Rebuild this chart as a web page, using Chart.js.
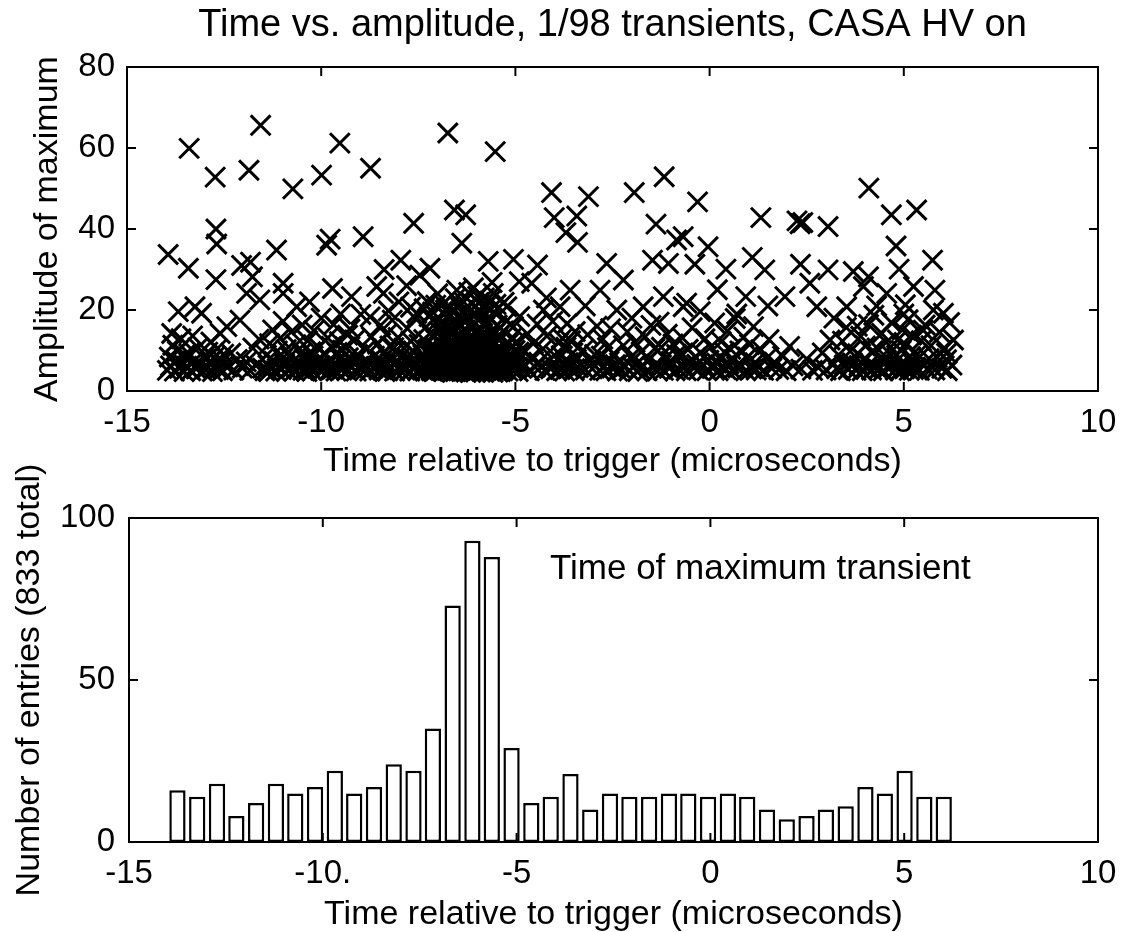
<!DOCTYPE html>
<html>
<head>
<meta charset="utf-8">
<script src="https://cdn.jsdelivr.net/npm/chart.js@4"></script>
<style>
  body { margin: 0; background: #fff; }
  canvas { position: absolute; left: 0; }
  #top { top: 0; }
  #bottom { top: 420px; }
</style>
</head>
<body>
<canvas id="top" width="1135" height="480"></canvas>
<canvas id="bottom" width="1135" height="512"></canvas>
<script>
// ---- data ----

// isolated crosses above the dense band: [time, amplitude]
const highPoints = [
  [-13.40,59.9],[-11.56,65.6],[-12.73,52.8],[-11.86,54.5],[-10.73,49.9],[-9.99,53.3],[-9.52,61.2],[-8.73,55.0],[-6.74,63.7],[-5.52,59.1],
  [-4.07,49.0],[-3.12,48.0],[-1.94,49.0],[-1.17,52.9],[-0.31,46.7],[1.32,42.8],[2.25,42.0],[2.33,41.3],[2.40,41.6],[3.05,40.6],
  [4.10,50.1],[4.68,43.5],[5.33,44.7],[4.80,35.8],[5.74,32.3],
  [-13.94,33.7],[-13.42,30.3],[-12.71,40.0],[-12.69,36.3],[-12.71,27.5],[-12.05,31.0],[-11.82,31.8],[-11.15,34.8],[-11.77,28.2],[-10.98,26.6],
  [-9.86,36.0],[-9.77,37.5],[-8.92,38.1],[-7.62,41.4],[-7.95,32.3],[-7.20,30.3],[-8.38,30.0],[-9.71,25.3],[-9.22,23.3],[-8.57,25.8],[-7.46,28.6],
  [-6.57,44.7],[-6.28,43.5],[-6.38,36.5],[-5.70,32.0],[-5.05,32.5],[-4.43,31.1],[-4.00,42.8],[-3.70,39.1],[-3.40,36.7],[-3.42,43.2],
  [-2.65,31.5],[-1.38,41.2],[-0.85,37.3],[-0.04,35.6],[-1.47,32.3],[-1.06,31.5],[-0.38,31.3],[0.42,30.1],[-0.68,38.1],[1.10,33.0],
  [1.42,29.9],[2.34,31.3],[3.05,29.9],[3.70,29.5],[4.09,28.2],[4.88,30.1],[2.58,26.6],[1.94,23.3],[5.80,24.9],[2.76,20.8],
  [3.96,25.8],[3.53,20.8],[4.56,24.1],[5.25,25.8],[5.76,20.0],[6.02,19.2],[6.28,12.6],[0.93,23.3],[-0.59,21.7],[-0.24,19.6],
  [6.10,7.7],[6.10,9.3],
  [-5.57,24.1],[-6.51,24.9],[-4.58,26.6],[-3.59,24.9],[-2.82,24.9],[-2.22,27.4],[-2.39,20.0],[-1.71,20.8],[-1.19,23.3],[-0.68,20.8],
  [-7.54,19.2],[-5.22,20.8],[-4.28,20.0],[-3.85,20.8],
  [-13.68,19.6],[-13.25,20.8],[-13.08,19.2],[-11.92,24.1],[-11.58,22.5],[-10.98,24.1],[-10.63,20.8],[-8.74,18.3],[-8.40,24.1],
  [-13.85,14.2],[-12.43,15.9],[-12.09,17.5],
  [-10.30,22.0],[-9.50,19.0],[-8.00,22.0],[-7.80,26.0],[-7.00,24.0],[-6.80,20.0],[-4.90,27.0],[-4.20,23.0],[-3.20,21.0],[-2.00,18.0],
  [-1.30,17.0],[0.20,25.0],[0.70,19.0],[1.50,21.0],[3.20,18.0],[3.80,16.0],[4.30,21.0],[5.00,19.0],[5.50,15.0]
];

// crosses in the dense band near the bottom: [time, amplitude]
const bandPoints = [
  [-13.96,5.1],[-13.91,8.4],[-13.88,6.2],[-13.82,11.3],[-13.78,4.9],[-13.74,7.5],[-13.70,9.8],[-13.65,5.6],[-13.61,12.9],[-13.57,6.8],[-13.53,4.8],[-13.51,8.9],
  [-13.46,6.1],[-13.41,9.2],[-13.36,5.0],[-13.31,13.6],[-13.27,7.4],[-13.22,5.5],[-13.17,10.7],[-13.12,6.6],[-13.06,4.9],[-13.01,8.1],
  [-12.96,5.4],[-12.92,9.6],[-12.88,7.0],[-12.84,12.1],[-12.80,4.8],[-12.76,8.3],[-12.72,6.1],[-12.68,10.4],[-12.64,5.3],[-12.60,14.2],[-12.57,7.7],[-12.54,5.0],[-12.51,9.1],[-12.49,6.5],
  [-12.40,6.0],[-12.33,9.3],[-12.25,5.2],[-12.16,7.8],[-12.03,5.7],
  [-11.93,7.2],[-11.84,5.1],[-11.76,10.6],[-11.68,6.3],[-11.60,12.8],[-11.51,5.6],
  [-11.45,5.0],[-11.41,8.8],[-11.37,6.4],[-11.33,11.7],[-11.29,5.5],[-11.25,15.1],[-11.21,7.3],[-11.17,4.9],[-11.13,9.9],[-11.09,6.0],[-11.06,13.0],[-11.03,5.3],[-11.00,8.0],[-10.98,17.2],[-11.35,4.8],
  [-10.94,6.7],[-10.90,10.2],[-10.86,5.2],[-10.81,8.5],[-10.77,14.6],[-10.73,6.0],[-10.69,4.9],[-10.65,11.4],[-10.60,7.4],[-10.56,5.6],[-10.52,9.3],[-10.49,16.3],[-10.47,5.1],
  [-10.43,7.9],[-10.39,5.3],[-10.35,12.4],[-10.31,6.6],[-10.27,9.7],[-10.23,5.0],[-10.19,14.9],[-10.15,7.1],[-10.11,5.8],[-10.07,10.8],[-10.03,6.2],[-10.00,18.0],[-9.97,4.9],[-10.21,8.6],[-10.37,4.8],
  [-9.92,5.7],[-9.89,9.0],[-9.86,6.4],[-9.83,13.1],[-9.80,5.1],[-9.77,7.6],[-9.74,11.0],[-9.71,5.4],[-9.68,16.4],[-9.65,6.9],[-9.62,4.9],[-9.59,9.5],[-9.56,6.0],[-9.53,12.2],[-9.50,7.8],[-9.47,5.2],[-9.45,10.1],
  [-9.42,6.3],[-9.38,10.9],[-9.34,5.0],[-9.30,8.2],[-9.26,15.3],[-9.22,5.8],[-9.18,7.1],[-9.14,12.6],[-9.10,4.9],[-9.06,9.0],[-9.02,6.1],[-8.98,18.9],[-8.95,5.4],[-9.32,13.8],
  [-8.91,6.8],[-8.87,5.1],[-8.83,10.3],[-8.79,7.2],[-8.75,4.9],[-8.71,13.4],[-8.67,5.7],[-8.63,8.6],[-8.59,6.0],[-8.55,11.6],[-8.51,5.2],[-8.47,16.2],[-8.44,7.5],
  [-8.41,5.5],[-8.38,9.4],[-8.35,6.3],[-8.32,14.0],[-8.29,5.0],[-8.26,7.9],[-8.23,11.1],[-8.20,5.8],[-8.17,17.5],[-8.14,6.7],[-8.11,4.9],[-8.08,9.9],[-8.05,7.0],[-8.02,13.2],[-7.99,5.3],[-7.96,8.4],[-7.94,6.1],[-8.27,19.8],[-8.13,10.7],[-8.36,4.8],
  [-7.90,6.0],[-7.87,10.6],[-7.84,5.2],[-7.81,8.2],[-7.78,15.4],[-7.75,6.6],[-7.72,4.9],[-7.69,12.3],[-7.66,7.4],[-7.63,5.5],[-7.60,9.6],[-7.57,17.9],[-7.54,6.2],[-7.51,5.0],[-7.48,11.5],[-7.45,7.8],[-7.43,5.7],[-7.70,20.7],
  [-7.40,5.3],[-7.38,8.9],[-7.36,12.7],[-7.34,6.1],[-7.32,4.9],[-7.30,15.8],[-7.28,7.3],[-7.26,10.2],[-7.24,5.6],[-7.22,18.4],[-7.20,6.8],[-7.18,9.1],[-7.16,5.0],[-7.14,13.6],[-7.12,7.7],[-7.10,4.8],[-7.08,11.0],
  [-7.06,6.4],[-7.04,16.9],[-7.02,8.3],[-7.00,5.4],[-6.98,9.8],[-6.96,14.7],[-6.94,6.9],[-6.92,5.1],[-6.91,12.0],[-7.35,20.3],[-7.27,22.1],[-7.13,19.5],[-7.05,21.2],[-6.97,7.5],[-7.21,10.6],[-7.09,6.0],
  [-6.89,5.2],[-6.88,8.7],[-6.87,12.9],[-6.86,6.3],[-6.85,16.1],[-6.84,4.8],[-6.83,10.4],[-6.82,7.2],[-6.81,5.7],[-6.80,14.0],[-6.79,9.1],[-6.78,6.0],[-6.77,18.3],[-6.76,5.1],[-6.75,11.7],[-6.74,7.9],[-6.73,13.5],
  [-6.72,5.5],[-6.71,8.2],[-6.70,6.6],[-6.69,15.2],[-6.68,4.9],[-6.67,10.0],[-6.66,7.0],[-6.65,12.3],[-6.64,5.9],[-6.63,17.0],[-6.62,8.9],[-6.61,6.2],[-6.60,19.4],[-6.59,5.3],[-6.58,11.1],[-6.57,7.6],
  [-6.56,14.6],[-6.55,6.8],[-6.54,4.8],[-6.53,9.6],[-6.52,12.7],[-6.51,5.6],[-6.50,16.8],[-6.49,8.0],[-6.48,6.4],[-6.47,10.8],[-6.46,5.0],[-6.45,13.9],[-6.44,7.3],[-6.43,18.8],[-6.42,9.3],[-6.41,5.8],
  [-6.40,11.9],[-6.86,21.5],[-6.70,20.6],[-6.55,22.8],[-6.45,21.0],[-6.62,4.6],
  [-6.38,5.4],[-6.37,9.0],[-6.36,13.2],[-6.35,6.7],[-6.34,17.4],[-6.33,4.9],[-6.32,10.9],[-6.31,7.5],[-6.30,5.9],[-6.29,15.0],[-6.28,8.4],[-6.27,6.1],[-6.26,20.2],[-6.25,5.2],[-6.24,12.0],[-6.23,7.8],
  [-6.22,14.3],[-6.21,5.6],[-6.20,9.7],[-6.19,6.9],[-6.18,18.1],[-6.17,4.8],[-6.16,11.3],[-6.15,7.1],[-6.14,13.8],[-6.13,6.0],[-6.12,21.6],[-6.11,8.8],[-6.10,5.3],[-6.09,16.2],[-6.08,10.1],[-6.07,6.5],
  [-6.06,12.6],[-6.05,5.0],[-6.04,19.0],[-6.03,7.7],[-6.02,9.4],[-6.01,5.7],[-6.00,14.9],[-5.99,8.1],[-5.98,6.3],[-5.97,23.4],[-5.96,11.5],[-5.95,5.1],[-5.94,17.7],[-5.93,7.4],[-5.92,10.5],[-5.91,6.2],
  [-5.90,13.1],[-6.33,22.0],[-6.20,24.3],[-6.08,25.5],[-5.95,21.8],[-6.27,4.7],[-6.15,4.6],[-6.02,4.7],[-6.36,19.3],[-5.92,19.9],
  [-5.88,5.3],[-5.87,9.2],[-5.86,14.1],[-5.85,6.5],[-5.84,18.6],[-5.83,4.8],[-5.82,11.0],[-5.81,7.6],[-5.80,5.8],[-5.79,15.9],[-5.78,8.6],[-5.77,6.2],[-5.76,20.9],[-5.75,5.1],[-5.74,12.4],[-5.73,7.9],
  [-5.72,16.7],[-5.71,5.5],[-5.70,9.9],[-5.69,6.8],[-5.68,13.3],[-5.67,4.9],[-5.66,10.6],[-5.65,7.2],[-5.64,17.8],[-5.63,5.9],[-5.62,8.3],[-5.61,12.1],[-5.60,6.4],[-5.59,15.1],[-5.58,5.2],[-5.57,9.5],
  [-5.56,7.0],[-5.55,19.5],[-5.54,5.6],[-5.53,11.6],[-5.52,8.0],[-5.51,14.4],[-5.50,6.0],[-5.49,10.2],[-5.48,5.0],[-5.47,16.3],[-5.46,7.4],[-5.45,12.8],[-5.44,5.7],[-5.43,9.0],[-5.42,6.6],[-5.41,13.7],
  [-5.40,5.3],[-5.39,8.7],[-5.80,23.0],[-5.66,22.2],[-5.50,21.4],[-5.60,26.8],[-5.82,4.6],[-5.58,4.6],[-5.45,4.7],
  [-5.37,6.1],[-5.35,10.3],[-5.33,5.0],[-5.31,14.8],[-5.29,7.7],[-5.27,5.5],[-5.25,9.2],[-5.23,17.3],[-5.21,6.4],[-5.19,4.9],[-5.17,11.8],[-5.15,7.0],[-5.13,5.8],[-5.11,13.0],[-5.09,8.5],[-5.07,5.2],
  [-5.05,15.9],[-5.03,6.7],[-5.01,10.0],[-4.99,5.4],[-4.97,12.2],[-4.95,7.3],[-4.93,4.8],[-4.91,9.6],[-4.89,18.4],[-5.29,21.9],
  [-4.84,5.6],[-4.79,9.8],[-4.74,6.3],[-4.69,14.1],[-4.64,5.0],[-4.59,8.2],[-4.54,11.7],[-4.49,5.9],[-4.44,16.5],[-4.40,7.1],
  [-4.34,6.0],[-4.29,10.4],[-4.24,5.1],[-4.19,13.6],[-4.14,7.5],[-4.09,5.5],[-4.04,17.2],[-3.99,8.8],[-3.94,5.0],[-3.89,11.9],
  [-3.85,5.3],[-3.82,8.7],[-3.79,13.0],[-3.76,6.2],[-3.73,4.9],[-3.70,10.8],[-3.67,16.6],[-3.64,7.0],[-3.61,5.6],[-3.58,12.4],[-3.55,6.5],[-3.52,9.4],[-3.49,5.0],[-3.46,14.7],[-3.43,7.8],[-3.38,5.8],
  [-3.32,6.4],[-3.26,10.1],[-3.20,5.2],[-3.14,13.9],[-3.08,7.4],[-3.02,5.5],[-2.96,9.0],[-2.90,16.0],
  [-2.83,5.1],[-2.79,8.6],[-2.75,12.8],[-2.71,6.0],[-2.67,5.0],[-2.63,10.7],[-2.59,7.3],[-2.55,15.4],[-2.51,5.7],[-2.47,9.2],[-2.43,6.5],[-2.37,4.9],
  [-2.32,7.0],[-2.27,5.3],[-2.22,11.2],[-2.17,6.1],[-2.12,14.6],[-2.07,5.0],[-2.02,8.4],[-1.97,5.8],[-1.92,12.0],[-1.88,6.7],[-1.85,4.8],
  [-1.81,5.5],[-1.76,9.7],[-1.71,6.3],[-1.66,13.4],[-1.61,5.0],[-1.56,7.9],[-1.51,16.2],[-1.46,5.9],[-1.41,10.5],[-1.37,6.6],[-1.34,4.9],
  [-1.30,6.2],[-1.24,10.8],[-1.19,5.1],[-1.14,8.1],[-1.09,14.0],[-1.04,5.6],[-0.99,7.3],[-0.94,11.6],[-0.89,5.0],[-0.85,9.0],
  [-0.80,5.4],[-0.75,8.9],[-0.70,13.1],[-0.65,6.0],[-0.60,5.0],[-0.55,10.3],[-0.50,7.2],[-0.45,15.6],[-0.40,5.7],[-0.36,8.3],[-0.33,6.6],
  [-0.29,5.2],[-0.23,9.4],[-0.17,6.5],[-0.12,12.9],[-0.07,5.0],[-0.02,7.6],[0.03,10.9],[0.08,5.6],[0.13,16.8],[0.18,6.9],
  [0.22,5.0],[0.26,8.0],[0.30,12.2],[0.34,5.9],[0.38,9.6],[0.42,5.3],[0.46,14.8],[0.50,6.7],[0.54,10.3],[0.58,5.1],[0.62,7.7],[0.66,17.9],[0.69,6.1],
  [0.73,5.7],[0.78,9.9],[0.83,6.2],[0.88,13.3],[0.93,5.0],[0.98,8.4],[1.03,11.5],[1.08,5.4],[1.13,15.9],[1.17,7.0],[1.20,5.2],
  [1.25,6.0],[1.32,10.2],[1.39,5.1],[1.46,8.0],[1.53,12.7],[1.60,5.6],[1.67,7.1],
  [1.78,5.3],[1.88,8.6],[1.97,5.0],[2.06,11.0],[2.15,6.2],
  [2.35,5.4],[2.50,7.9],[2.65,5.1],
  [2.80,5.8],[2.90,9.4],[3.00,5.2],[3.10,12.6],[3.20,6.7],
  [3.27,5.5],[3.32,8.9],[3.37,5.0],[3.42,12.3],[3.47,6.4],[3.52,15.7],[3.57,5.3],[3.62,9.8],[3.68,6.9],
  [3.77,5.1],[3.81,9.2],[3.85,6.3],[3.89,13.5],[3.93,5.0],[3.97,7.8],[4.01,11.1],[4.05,5.6],[4.09,16.4],[4.13,6.8],[4.17,5.2],[4.20,9.9],[4.23,18.7],
  [4.27,6.0],[4.31,10.6],[4.35,5.3],[4.39,8.1],[4.43,14.2],[4.47,5.0],[4.51,7.4],[4.55,12.0],[4.59,5.7],[4.63,9.3],[4.68,16.9],[4.72,6.5],
  [4.78,5.2],[4.81,8.8],[4.84,12.6],[4.87,6.1],[4.90,5.0],[4.93,10.0],[4.96,15.1],[4.99,7.0],[5.02,5.5],[5.05,11.4],[5.08,6.4],[5.11,17.6],[5.14,5.1],[5.17,8.5],[5.20,13.8],[5.23,6.8],[5.25,5.3],[5.04,21.3],
  [5.30,5.8],[5.35,9.1],[5.40,5.1],[5.45,12.4],[5.50,6.6],[5.55,16.3],[5.60,5.4],[5.65,8.0],[5.70,11.2],[5.75,5.9],
  [5.80,5.2],[5.86,8.3],[5.92,14.5],[5.98,5.6],[6.04,10.6],[6.12,5.0],[6.18,16.9],[6.24,6.4]
];

// histogram: bin centres (microseconds) and counts
const binCenters = [
  -13.75,-13.24,-12.73,-12.23,-11.72,-11.21,-10.71,-10.20,-9.69,-9.19,
  -8.68,-8.17,-7.66,-7.16,-6.65,-6.14,-5.64,-5.13,-4.62,-4.12,
  -3.61,-3.10,-2.59,-2.09,-1.58,-1.07,-0.57,-0.06,0.45,0.95,
  1.46,1.97,2.48,2.98,3.49,4.00,4.50,5.01,5.52,6.02
];
const binCounts = [
  16,14,18,8,12,18,15,17,22,15,
  17,24,22,35,73,93,88,29,12,14,
  21,10,15,14,14,15,15,14,15,14,
  10,7,8,10,11,17,15,22,14,14
];

const timeTicks = [-15, -10, -5, 0, 5, 10];

const titleText = 'Time vs. amplitude, 1/98 transients, CASA HV on';
const xTitleText = 'Time relative to trigger (microseconds)';
const ampTitleText = 'Amplitude of maximum';
const countTitleText = 'Number of entries (833 total)';
const noteText = 'Time of maximum transient';

const FONT = '"Liberation Sans", Arial, sans-serif';
Chart.defaults.font.family = FONT;
Chart.defaults.font.size = 33;
Chart.defaults.color = '#000';

// box round the axes with inward ticks on all four sides
const boxPlugin = {
  id: 'box',
  afterDraw(chart) {
    const ctx = chart.ctx;
    const a = chart.chartArea;
    const x = chart.scales.x, y = chart.scales.y;
    ctx.save();
    ctx.strokeStyle = '#000';
    ctx.lineWidth = 2;
    ctx.strokeRect(a.left, a.top, a.right - a.left, a.bottom - a.top);
    ctx.beginPath();
    x.ticks.forEach(function(t){
      const px = x.getPixelForValue(t.value);
      ctx.moveTo(px, a.bottom); ctx.lineTo(px, a.bottom - 9);
      ctx.moveTo(px, a.top); ctx.lineTo(px, a.top + 9);
    });
    y.ticks.forEach(function(t){
      const py = y.getPixelForValue(t.value);
      ctx.moveTo(a.left, py); ctx.lineTo(a.left + 9, py);
      ctx.moveTo(a.right, py); ctx.lineTo(a.right - 9, py);
    });
    ctx.stroke();
    ctx.restore();
  }
};

// title centred over the axes box, like the original figure
const headPlugin = {
  id: 'head',
  afterDraw(chart) {
    const ctx = chart.ctx;
    const a = chart.chartArea;
    ctx.save();
    ctx.font = '38px ' + FONT;
    ctx.fillStyle = '#000';
    ctx.textAlign = 'center';
    ctx.textBaseline = 'middle';
    ctx.fillText(titleText, (a.left + a.right) / 2, 26);
    ctx.restore();
  }
};

const notePlugin = {
  id: 'note',
  afterDraw(chart) {
    const ctx = chart.ctx;
    ctx.save();
    ctx.font = '35px ' + FONT;
    ctx.fillStyle = '#000';
    ctx.textBaseline = 'middle';
    ctx.fillText(noteText, chart.scales.x.getPixelForValue(-4.14), chart.scales.y.getPixelForValue(84.3));
    ctx.restore();
  }
};

function timeAxis(labelFn, height) {
  return {
    type: 'linear', min: -15, max: 10, offset: false,
    afterBuildTicks: function(s){ s.ticks = timeTicks.map(function(v){ return {value: v}; }); },
    ticks: { padding: 12, maxRotation: 0, autoSkip: false, callback: labelFn },
    grid: { display: false, drawTicks: false, offset: false },
    border: { display: false },
    title: { display: true, text: xTitleText, font: { size: 34, lineHeight: 1 }, padding: 0 },
    afterFit: function(s){ s.height = height; }
  };
}

const crossStyle = {
  pointStyle: 'crossRot',
  pointRadius: 14,
  pointBorderWidth: 3,
  borderColor: '#000',
  backgroundColor: '#000'
};

new Chart(document.getElementById('top'), {
  type: 'scatter',
  data: {
    datasets: [
      Object.assign({ data: bandPoints.map(function(p){ return {x: p[0], y: p[1]}; }) }, crossStyle),
      Object.assign({ data: highPoints.map(function(p){ return {x: p[0], y: p[1]}; }) }, crossStyle)
    ]
  },
  options: {
    responsive: false,
    animation: false,
    layout: { padding: { left: 0, right: 37, top: 67, bottom: 1 } },
    plugins: {
      legend: { display: false },
      tooltip: { enabled: false }
    },
    scales: {
      x: timeAxis(function(v){ return String(v); }, 88),
      y: {
        min: 0, max: 80,
        ticks: { stepSize: 20, padding: 12 },
        grid: { display: false, drawTicks: false },
        border: { display: false },
        title: { display: true, text: ampTitleText, font: { size: 34, lineHeight: 1 }, padding: { top: 31, bottom: 0 } },
        afterFit: function(s){ s.width = 127; }
      }
    }
  },
  plugins: [boxPlugin, headPlugin]
});

new Chart(document.getElementById('bottom'), {
  type: 'bar',
  data: {
    datasets: [{
      data: binCenters.map(function(c, i){ return {x: c, y: binCounts[i]}; }),
      backgroundColor: '#fff',
      borderColor: '#000',
      borderWidth: 2.5,
      borderSkipped: false,
      barPercentage: 1.0,
      categoryPercentage: 0.84
    }]
  },
  options: {
    responsive: false,
    animation: false,
    layout: { padding: { left: 0, right: 37, top: 98, bottom: 0 } },
    plugins: { legend: { display: false }, tooltip: { enabled: false } },
    scales: {
      x: timeAxis(function(v){ return v === -10 ? '-10.' : String(v); }, 90),
      y: {
        min: 0, max: 100,
        ticks: { stepSize: 50, padding: 14 },
        grid: { display: false, drawTicks: false },
        border: { display: false },
        title: { display: true, text: countTitleText, font: { size: 34, lineHeight: 1 }, padding: { top: 13, bottom: 0 } },
        afterFit: function(s){ s.width = 129; }
      }
    }
  },
  plugins: [boxPlugin, notePlugin]
});
</script>
</body>
</html>
